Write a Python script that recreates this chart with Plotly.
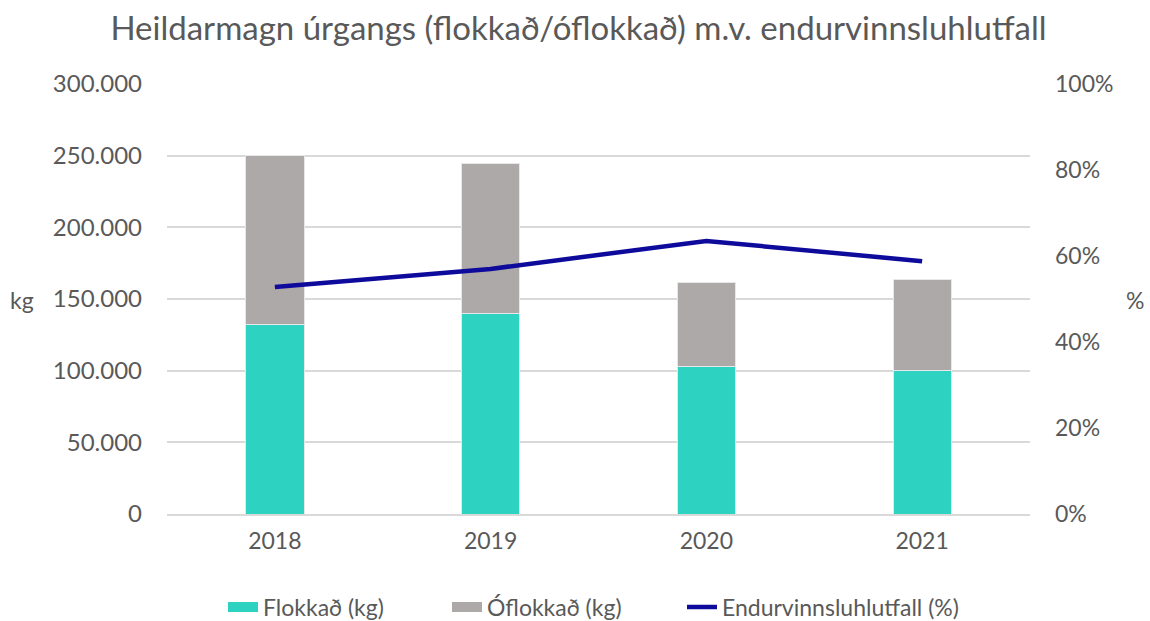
import plotly.graph_objs as go

years      = ['2018', '2019', '2020', '2021']
flokkad    = [132500, 140200, 102600, 99800]
oflokkad   = [117300, 104000, 58600, 63500]
hlutfall   = [0.528, 0.570, 0.635, 0.588]

FONT = 'Lato'
GREY = '#595959'
TEAL, STONE, NAVY = '#2DD2C0', '#ADA9A8', '#0E0A9C'

W, H = 1150, 621
L, R, T, B = 167, 120, 84, 107

fig = go.Figure()
fig.add_trace(go.Bar(x=years, y=flokkad, name='Flokkað (kg)', showlegend=False,
                     marker=dict(color=TEAL, line=dict(color='#E8E8E8', width=1))))
fig.add_trace(go.Bar(x=years, y=oflokkad, name='Óflokkað (kg)', showlegend=False,
                     marker=dict(color=STONE, line=dict(color='#E8E8E8', width=1))))
fig.add_trace(go.Scatter(x=years, y=hlutfall, name='Endurvinnsluhlutfall (%)', yaxis='y2',
                         mode='lines', line=dict(color=NAVY, width=4.5), showlegend=False))

# legend entries (wide swatches like the original)
for name, col, w, lg in [('Flokkað (kg)', TEAL, 15, 'legend'),
                         ('Óflokkað (kg)', STONE, 15, 'legend'),
                         ('Endurvinnsluhlutfall (%)', NAVY, 4.5, 'legend2')]:
    fig.add_trace(go.Scatter(x=[None], y=[None], name=name, mode='lines', legend=lg,
                             line=dict(color=col, width=w)))

leg_y = 1 - 607 / H
fig.update_layout(
    width=W, height=H,
    barmode='stack', bargap=0.73,
    separators=',.',
    plot_bgcolor='white', paper_bgcolor='white',
    font=dict(family=FONT, color=GREY, size=23),
    margin=dict(l=L, r=R, t=T, b=B),
    title=dict(text='Heildarmagn úrgangs (flokkað/óflokkað) m.v. endurvinnsluhlutfall',
               x=0.503, xanchor='center', y=1 - 28 / H, yanchor='middle',
               font=dict(size=33, color=GREY, family=FONT)),
    xaxis=dict(showgrid=False, showline=True, linecolor='#D9D9D9', linewidth=1.5,
               ticks='', ticklabelstandoff=6, tickfont=dict(size=23, color=GREY)),
    yaxis=dict(range=[0, 300000], dtick=50000, tickformat=',.0f',
               showgrid=True, gridcolor='#D9D9D9', gridwidth=1.5, zeroline=False,
               ticks='', ticklabelstandoff=24, tickfont=dict(size=24, color=GREY)),
    yaxis2=dict(range=[0, 1], dtick=0.2, tickformat='.0%', overlaying='y', side='right',
                showgrid=False, zeroline=False, ticklabelstandoff=24,
                tickfont=dict(size=23, color=GREY)),
    legend=dict(orientation='h', xref='container', x=223 / W, xanchor='left',
                yref='container', y=leg_y, yanchor='middle',
                font=dict(size=23, color=GREY), traceorder='normal',
                itemwidth=30, entrywidth=179),
    legend2=dict(orientation='h', xref='container', x=682 / W, xanchor='left',
                 yref='container', y=leg_y, yanchor='middle',
                 font=dict(size=23, color=GREY), itemwidth=30),
    showlegend=True,
)

pw, ph = W - L - R, H - T - B
for txt, px_, py_ in [('kg', 22, 300), ('%', 1135, 300)]:
    fig.add_annotation(text=txt, x=(px_ - L) / pw, y=(H - B - py_) / ph,
                       xref='paper', yref='paper', xanchor='center', yanchor='middle',
                       showarrow=False, font=dict(size=23, color=GREY))

# drop the default 8px body margin so the figure fills the window exactly
fig.write_html('out.html', config={'displayModeBar': False},
               post_script="document.body.style.margin='0';")
